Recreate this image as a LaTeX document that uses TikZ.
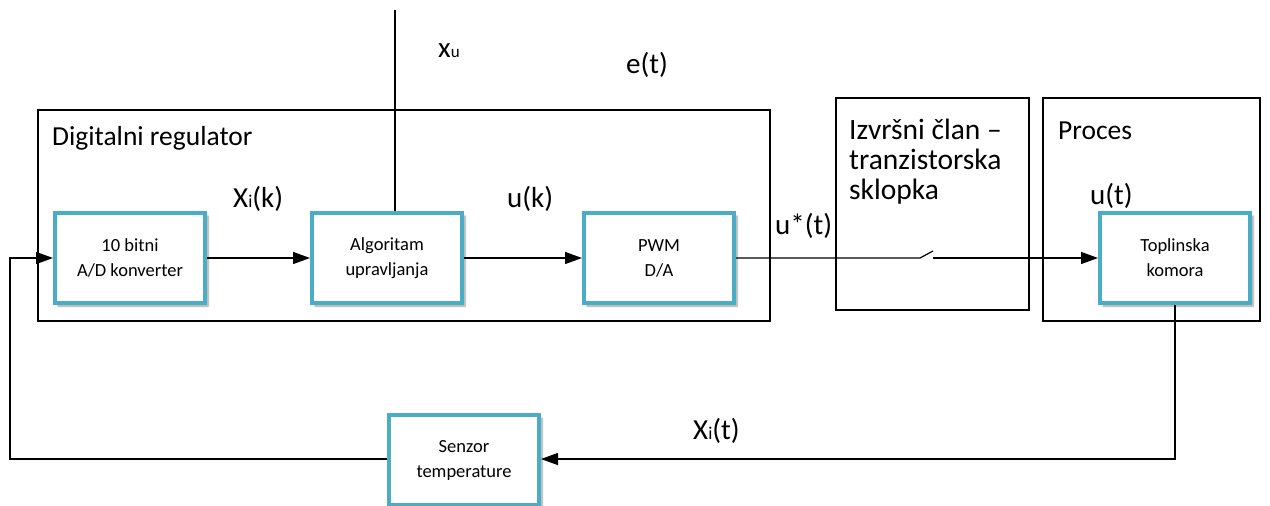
\documentclass[tikz,border=0pt]{standalone}
\usepackage{fontspec}
\setmainfont{Carlito}
\usetikzlibrary{arrows.meta,shadows.blur}
\definecolor{boxblue}{RGB}{75,172,198}
\begin{document}
\begin{tikzpicture}[x=1pt,y=-1pt,
 blk/.style={draw=boxblue, line width=4pt, fill=white, minimum width=150pt, minimum height=90pt, align=center, inner sep=0pt,
   font=\fontsize{18.5}{25}\selectfont,
   blur shadow={shadow xshift=3pt, shadow yshift=-3pt, shadow blur steps=6, shadow opacity=40}},
 frame/.style={draw, line width=1.2pt, inner sep=0pt},
 lbl/.style={font=\fontsize{29}{30}\selectfont, inner sep=0pt, anchor=base west},
 sml/.style={font=\fontsize{27.5}{27}\selectfont, inner sep=0pt, anchor=base west},
 conn/.style={line width=1.2pt, -{Triangle[length=17pt,width=12pt]}},
 wire/.style={line width=1.2pt}]
\useasboundingbox (0,0) rectangle (1270,506);
% frames
\node[frame, minimum width=732pt, minimum height=211pt] (dr) at (404,215.5) {};
\node[frame, minimum width=193pt, minimum height=212pt] (iz) at (932.5,204) {};
\node[frame, minimum width=217pt, minimum height=223pt] (pr) at (1151.5,209.5) {};
\node[sml] (drt) at (52,145) {Digitalni regulator};
\node[sml, align=left, anchor=north west, font=\fontsize{29.5}{30}\selectfont] (izt) at (849,119) {Izvršni član –\\tranzistorska\\sklopka};
\node[sml] (prt) at (1058,139) {Proces};
% blocks
\node[blk] (ad) at (130,258) {10 bitni\\A/D konverter};
\node[blk] (alg) at (387,258) {Algoritam\\upravljanja};
\node[blk] (pwm) at (659,258) {PWM\\D/A};
\node[blk] (top) at (1175,258) {Toplinska\\komora};
\node[blk] (sen) at (464,460) {Senzor\\temperature};
% coordinates
\coordinate (xtop) at (395,10);
\coordinate (sw1) at (920,258);
\coordinate (sw2) at (933,251);
\coordinate (sw3) at (933,258);
\coordinate (fb1) at (1175,459);
\coordinate (fb2) at (10,459);
\coordinate (fb3) at (10,258);
% connectors
\draw[conn] (ad.east) -- (alg.west);
\draw[conn] (alg.east) -- (pwm.west);
\draw[wire] (pwm.east) -- (sw1) -- (sw2);
\draw[conn] (sw3) -- (top.west);
\draw[wire] (xtop) -- (xtop |- alg.north);
\draw[conn] (top.south) -- (fb1) -- (sen.east |- fb1);
\draw[conn] (sen.west |- fb1) -- (fb2) -- (fb3) -- (ad.west);
% labels
\node[lbl] (lxu) at (438,57) {x{\fontsize{17}{17}\selectfont u}};
\node[lbl] (let) at (626,73) {e(t)};
\node[lbl] (lxk) at (233,207) {X{\fontsize{18}{18}\selectfont i}(k)};
\node[lbl] (luk) at (507,207) {u(k)};
\node[lbl] (lus) at (775,234) {u*(t)};
\node[lbl] (lut) at (1090,204) {u(t)};
\node[lbl] (lxt) at (693,439) {X{\fontsize{18}{18}\selectfont i}(t)};
\end{tikzpicture}
\end{document}
